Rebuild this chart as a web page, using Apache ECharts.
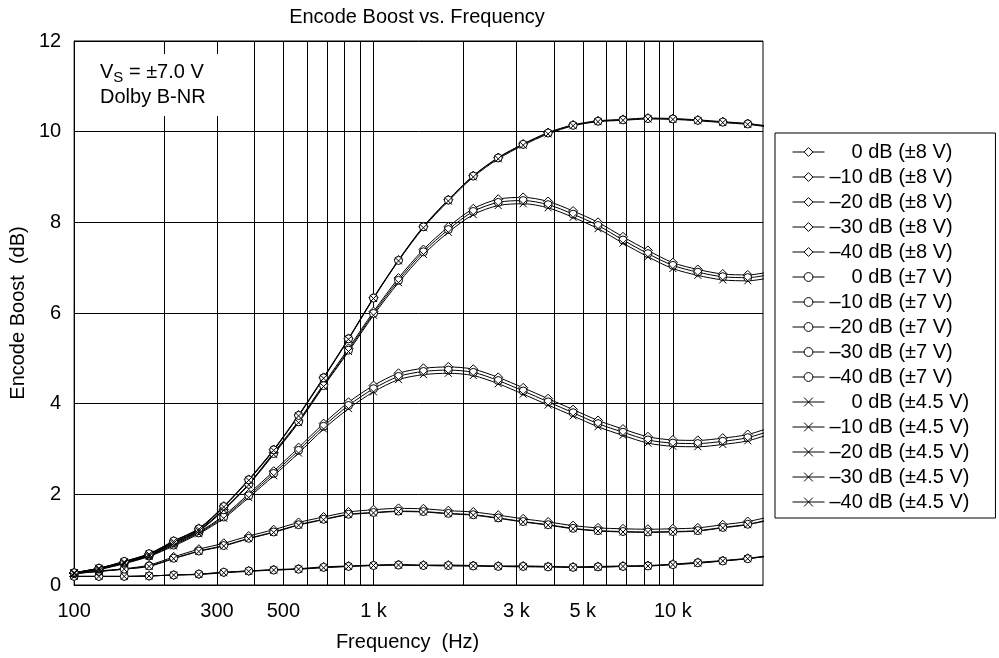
<!DOCTYPE html>
<html><head><meta charset="utf-8">
<script src="https://cdn.jsdelivr.net/npm/echarts@6/dist/echarts.min.js"></script>
<style>html,body{margin:0;padding:0;background:#fff}#c{width:999px;height:658px}</style>
</head><body><div id="c"></div>
<script>
// Frequency points (Hz)
const freqs = [100, 121, 147, 178, 215, 261, 316, 383, 464, 562, 681, 825, 1000, 1212, 1468, 1778, 2154, 2610, 3162, 3831, 4642, 5623, 6813, 8254, 10000, 12115, 14678, 17783, 21544];

// Axis ticks / labels
const xGridValues = [100, 200, 300, 400, 500, 600, 700, 800, 900, 1000, 2000, 3000, 4000, 5000, 6000, 7000, 8000, 9000, 10000];
const xLabelValues = [100, 300, 500, 1000, 3000, 5000, 10000];
const xLabelTexts = ['100', '300', '500', '1 k', '3 k', '5 k', '10 k'];

// Encode boost (dB), ±8 V supply
const b8_0   = [0.19, 0.19, 0.19, 0.20, 0.22, 0.24, 0.28, 0.31, 0.34, 0.36, 0.40, 0.42, 0.44, 0.45, 0.44, 0.44, 0.43, 0.42, 0.42, 0.41, 0.40, 0.41, 0.42, 0.43, 0.46, 0.50, 0.54, 0.59, 0.66];
const b8_m10 = [0.25, 0.31, 0.36, 0.44, 0.62, 0.79, 0.92, 1.08, 1.22, 1.38, 1.50, 1.61, 1.66, 1.69, 1.68, 1.64, 1.61, 1.54, 1.46, 1.39, 1.31, 1.26, 1.24, 1.23, 1.24, 1.26, 1.33, 1.40, 1.52];
const b8_m20 = [0.26, 0.35, 0.49, 0.65, 0.90, 1.17, 1.53, 2.01, 2.51, 3.03, 3.56, 4.03, 4.40, 4.67, 4.78, 4.81, 4.76, 4.58, 4.35, 4.11, 3.87, 3.63, 3.44, 3.27, 3.20, 3.19, 3.24, 3.32, 3.49];
const b8_m30 = [0.27, 0.36, 0.50, 0.67, 0.94, 1.21, 1.67, 2.23, 2.92, 3.62, 4.43, 5.22, 6.03, 6.77, 7.40, 7.90, 8.30, 8.51, 8.55, 8.46, 8.25, 8.00, 7.68, 7.38, 7.11, 6.96, 6.86, 6.84, 6.92];
const b8_m40 = [0.27, 0.37, 0.52, 0.69, 0.97, 1.25, 1.74, 2.33, 2.99, 3.75, 4.58, 5.44, 6.34, 7.17, 7.91, 8.50, 9.03, 9.43, 9.73, 9.98, 10.15, 10.24, 10.27, 10.30, 10.29, 10.26, 10.22, 10.18, 10.11];

// Encode boost (dB), ±7 V supply
const b7_0   = [0.19, 0.19, 0.19, 0.20, 0.22, 0.24, 0.28, 0.31, 0.33, 0.35, 0.39, 0.41, 0.43, 0.44, 0.43, 0.43, 0.42, 0.41, 0.41, 0.40, 0.39, 0.40, 0.41, 0.42, 0.45, 0.49, 0.53, 0.58, 0.65];
const b7_m10 = [0.25, 0.30, 0.35, 0.42, 0.59, 0.75, 0.87, 1.03, 1.17, 1.33, 1.45, 1.56, 1.60, 1.63, 1.62, 1.58, 1.55, 1.48, 1.40, 1.33, 1.25, 1.20, 1.18, 1.17, 1.18, 1.20, 1.27, 1.34, 1.46];
const b7_m20 = [0.26, 0.35, 0.48, 0.64, 0.88, 1.15, 1.50, 1.97, 2.46, 2.97, 3.50, 3.96, 4.33, 4.60, 4.71, 4.74, 4.69, 4.51, 4.28, 4.04, 3.80, 3.56, 3.37, 3.20, 3.13, 3.12, 3.17, 3.25, 3.42];
const b7_m30 = [0.27, 0.36, 0.50, 0.66, 0.93, 1.20, 1.66, 2.22, 2.90, 3.60, 4.40, 5.18, 5.99, 6.72, 7.35, 7.84, 8.24, 8.44, 8.48, 8.39, 8.18, 7.93, 7.61, 7.31, 7.05, 6.90, 6.80, 6.78, 6.86];
const b7_m40 = [0.27, 0.37, 0.52, 0.69, 0.97, 1.24, 1.73, 2.32, 2.98, 3.74, 4.57, 5.43, 6.33, 7.16, 7.90, 8.49, 9.02, 9.42, 9.72, 9.97, 10.14, 10.23, 10.26, 10.29, 10.28, 10.25, 10.21, 10.17, 10.10];

// Encode boost (dB), ±4.5 V supply
const b45_0   = [0.19, 0.19, 0.19, 0.20, 0.22, 0.23, 0.27, 0.30, 0.33, 0.35, 0.38, 0.41, 0.43, 0.44, 0.43, 0.42, 0.42, 0.41, 0.40, 0.40, 0.39, 0.39, 0.41, 0.42, 0.45, 0.48, 0.53, 0.58, 0.65];
const b45_m10 = [0.25, 0.30, 0.35, 0.41, 0.58, 0.74, 0.86, 1.02, 1.16, 1.32, 1.44, 1.55, 1.59, 1.62, 1.61, 1.57, 1.54, 1.47, 1.39, 1.32, 1.24, 1.19, 1.17, 1.16, 1.17, 1.19, 1.26, 1.33, 1.45];
const b45_m20 = [0.26, 0.34, 0.47, 0.63, 0.86, 1.13, 1.47, 1.93, 2.41, 2.91, 3.44, 3.89, 4.26, 4.53, 4.64, 4.67, 4.62, 4.44, 4.21, 3.97, 3.73, 3.49, 3.30, 3.13, 3.06, 3.05, 3.10, 3.18, 3.35];
const b45_m30 = [0.27, 0.36, 0.49, 0.65, 0.92, 1.19, 1.65, 2.21, 2.88, 3.58, 4.38, 5.15, 5.95, 6.67, 7.29, 7.78, 8.17, 8.37, 8.41, 8.32, 8.11, 7.86, 7.54, 7.24, 6.98, 6.83, 6.73, 6.71, 6.79];
const b45_m40 = [0.27, 0.37, 0.51, 0.68, 0.96, 1.23, 1.72, 2.31, 2.97, 3.73, 4.56, 5.42, 6.32, 7.15, 7.88, 8.47, 9.00, 9.40, 9.70, 9.95, 10.13, 10.22, 10.25, 10.28, 10.27, 10.24, 10.20, 10.16, 10.09];

const levels = ['0', '–10', '–20', '–30', '–40'];
const supplies = ['±8 V', '±7 V', '±4.5 V'];
const seriesValues = [
  [b8_0, b8_m10, b8_m20, b8_m30, b8_m40],
  [b7_0, b7_m10, b7_m20, b7_m30, b7_m40],
  [b45_0, b45_m10, b45_m20, b45_m30, b45_m40]
];

const FONT = 'Liberation Sans';
const FS = 20;
const symbols = ['diamond', 'circle', 'path://M0,0L10,10M0,10L10,0'];
const symbolSizes = [9, 8, 7];

const series = [];
supplies.forEach((sup, si) => {
  levels.forEach((lv, li) => {
    series.push({
      name: lv + ' dB (' + sup + ')',
      type: 'line',
      data: freqs.map((f, i) => [f, seriesValues[si][li][i]]),
      symbol: symbols[si],
      symbolSize: symbolSizes[si],
      showAllSymbol: true,
      smooth: 0.3,
      clip: true,
      lineStyle: { color: '#000', width: 1 },
      itemStyle: { color: '#fff', borderColor: '#000', borderWidth: 1 },
      emphasis: { disabled: true },
      z: 3
    });
  });
});

const chart = echarts.init(document.getElementById('c'));
chart.setOption({
  animation: false,
  backgroundColor: '#fff',
  textStyle: { fontFamily: FONT, color: '#000' },
  title: [
    {
      text: 'Encode Boost vs. Frequency',
      left: 417, top: 7, textAlign: 'center', padding: 0,
      textStyle: { fontFamily: FONT, fontSize: FS, fontWeight: 'normal', color: '#000', lineHeight: 20 }
    },
    {
      text: '{v|V}{s|S}{v| = ±7.0 V}\n{v|Dolby B-NR}',
      left: 90, top: 54, textAlign: 'left', padding: [6, 16, 6, 10],
      backgroundColor: '#fff',
      textStyle: {
        fontFamily: FONT, fontSize: FS, fontWeight: 'normal', color: '#000', lineHeight: 25,
        rich: {
          v: { fontFamily: FONT, fontSize: FS, color: '#000', lineHeight: 25 },
          s: { fontFamily: FONT, fontSize: 15, color: '#000', lineHeight: 12, verticalAlign: 'bottom' }
        }
      }
    }
  ],
  grid: { left: 72, right: 236, top: 41, bottom: 73, show: true, borderColor: '#000', borderWidth: 1, containLabel: false },
  legend: {
    orient: 'vertical', left: 775, top: 133,
    padding: [9, 26, 6, 17],
    borderColor: '#000', borderWidth: 1, backgroundColor: '#fff',
    itemWidth: 32, itemHeight: 11, itemGap: 5,
    selectedMode: false,
    itemStyle: { borderWidth: 1 },
    lineStyle: { width: 1, color: '#000' },
    formatter: function (name) {
      const p = name.split(' dB');
      if (p[0] === '0') return '{p|0}{b| dB' + p[1] + '}';
      return '{b|' + p[0] + ' dB' + p[1] + '}';
    },
    textStyle: {
      fontFamily: FONT, fontSize: FS, color: '#000', lineHeight: 20,
      rich: {
        p: { fontFamily: FONT, fontSize: FS, color: '#000', padding: [0, 0, 0, 22], lineHeight: 20 },
        b: { fontFamily: FONT, fontSize: FS, color: '#000', lineHeight: 20 }
      }
    },
    data: series.map(s => s.name)
  },
  xAxis: {
    type: 'log', logBase: 10, min: 100, max: 20000,
    name: 'Frequency  (Hz)', nameLocation: 'middle', nameGap: 47,
    nameTextStyle: { fontFamily: FONT, fontSize: FS, color: '#000', padding: [0, 22, 0, 0] },
    axisLine: { show: true, lineStyle: { color: '#000', width: 1 } },
    axisTick: { show: false, customValues: xGridValues },
    axisLabel: {
      customValues: xLabelValues, margin: 16,
      fontFamily: FONT, fontSize: FS, color: '#000',
      formatter: function (v) {
        const idx = xLabelValues.indexOf(Math.round(v));
        return idx >= 0 ? xLabelTexts[idx] : '';
      }
    },
    splitLine: { show: true, lineStyle: { color: '#000', width: 1 } },
    minorTick: { show: false }, minorSplitLine: { show: false }
  },
  yAxis: {
    type: 'value', min: 0, max: 12, interval: 2,
    name: 'Encode Boost  (dB)', nameLocation: 'middle', nameGap: 44,
    nameTextStyle: { fontFamily: FONT, fontSize: FS, color: '#000' },
    axisLine: { show: true, lineStyle: { color: '#000', width: 1 } },
    axisTick: { show: false },
    axisLabel: { margin: 13, fontFamily: FONT, fontSize: FS, color: '#000' },
    splitLine: { show: true, lineStyle: { color: '#000', width: 1 } }
  },
  series: series
});
</script>
</body></html>
